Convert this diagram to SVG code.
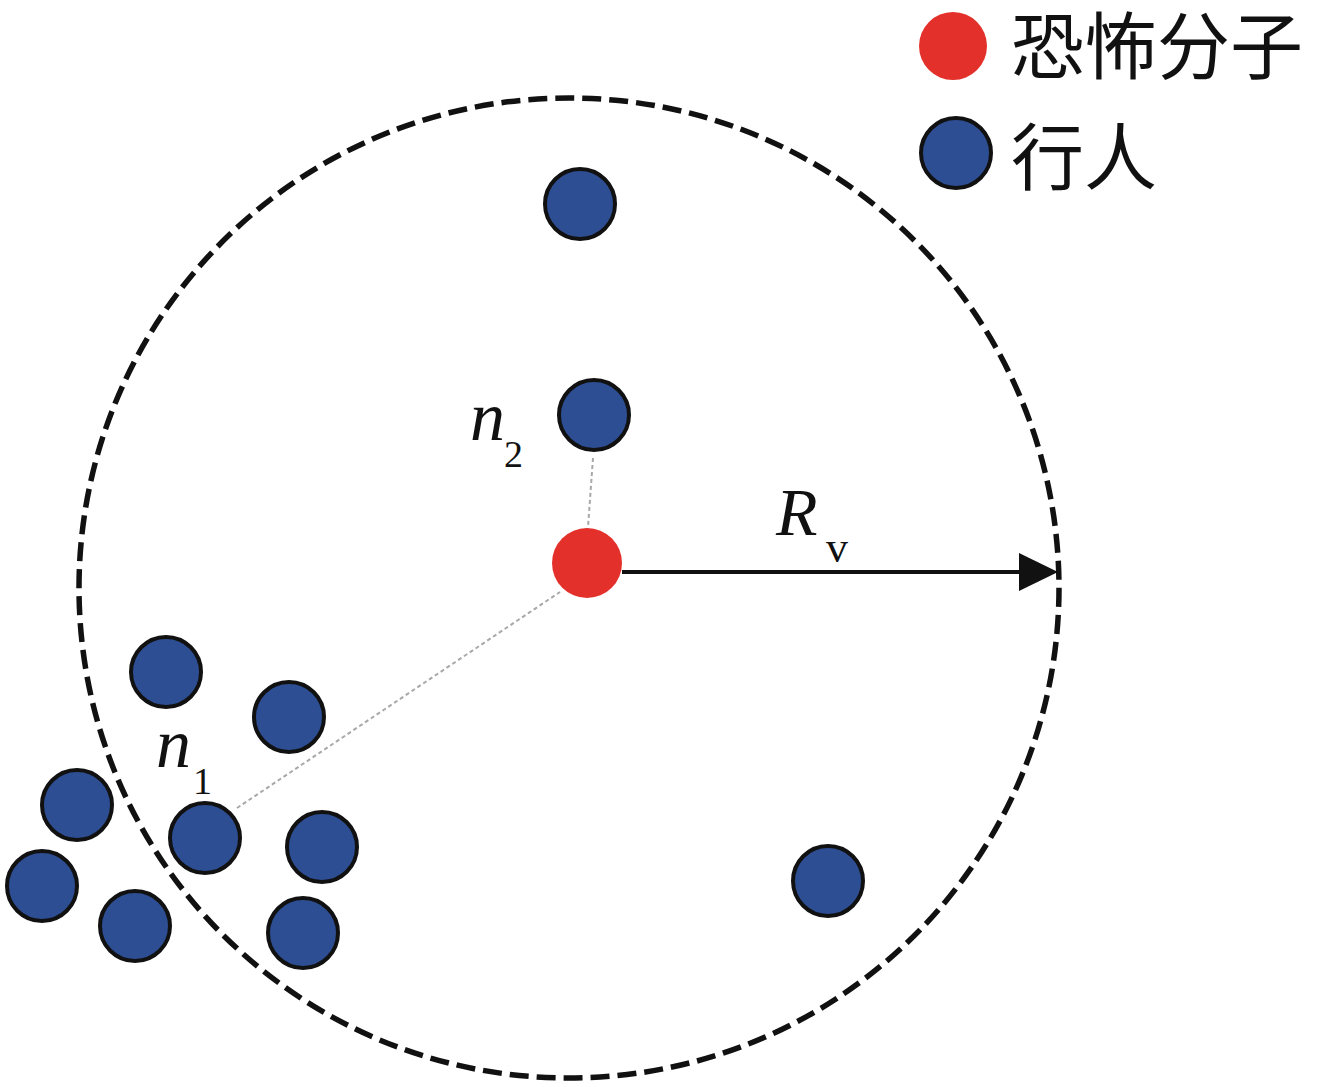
<svg xmlns="http://www.w3.org/2000/svg" width="1324" height="1087" viewBox="0 0 1324 1087">
<style>
.ped{fill:#2e4e93;stroke:#111;stroke-width:4}
.ter{fill:#e3302a}
.dot{stroke:#a8a8a8;stroke-width:2;stroke-dasharray:4 3;fill:none}
.math{font-family:"Liberation Serif",serif;fill:#111}
.it{font-style:italic}
.leg{font-family:"Liberation Serif","Noto Sans CJK SC",serif;font-size:73px;fill:#111}
</style>
<rect width="1324" height="1087" fill="#fff"/>
<g id="range">
<circle cx="569" cy="588" r="490" fill="none" stroke="#111" stroke-width="5.5" stroke-dasharray="19 8"/>
</g>
<g id="connectors">
<line class="dot" x1="593" y1="458" x2="588" y2="527"/>
<line class="dot" x1="237" y1="808" x2="560" y2="592"/>
<line x1="622" y1="572" x2="1022" y2="572" stroke="#111" stroke-width="4"/>
<path d="M1019,553 L1058,572 L1019,591 Z" fill="#111"/>
</g>
<g id="terrorist"><circle class="ter" cx="587" cy="563" r="35"/></g>
<g id="p_top"><circle class="ped" cx="580" cy="204" r="35"/></g>
<g id="p_n2"><circle class="ped" cx="594" cy="415" r="35"/></g>
<g id="p_br"><circle class="ped" cx="828" cy="881" r="35"/></g>
<g id="p_c1"><circle class="ped" cx="166" cy="672" r="35"/></g>
<g id="p_c2"><circle class="ped" cx="289" cy="717" r="35"/></g>
<g id="p_c3"><circle class="ped" cx="77" cy="805" r="35"/></g>
<g id="p_n1"><circle class="ped" cx="205" cy="838" r="35"/></g>
<g id="p_c5"><circle class="ped" cx="322" cy="847" r="35"/></g>
<g id="p_c6"><circle class="ped" cx="42" cy="886" r="35"/></g>
<g id="p_c7"><circle class="ped" cx="135" cy="926" r="35"/></g>
<g id="p_c8"><circle class="ped" cx="303" cy="933" r="35"/></g>
<g id="label_n2">
<text class="math it" x="470" y="440" font-size="70">n</text>
<text class="math" x="504" y="467" font-size="38">2</text>
</g>
<g id="label_n1">
<text class="math it" x="156" y="767" font-size="70">n</text>
<text class="math" x="193" y="794" font-size="38">1</text>
</g>
<g id="label_R">
<text class="math it" x="776" y="535" font-size="68">R</text>
<text class="math" x="826" y="562" font-size="44">v</text>
</g>
<g id="legend">
<circle class="ter" cx="953" cy="46" r="34"/>
<text class="leg" x="1011" y="73">恐怖分子</text>
<circle class="ped" cx="956" cy="153" r="35"/>
<text class="leg" x="1011" y="184">行人</text>
</g>
</svg>
